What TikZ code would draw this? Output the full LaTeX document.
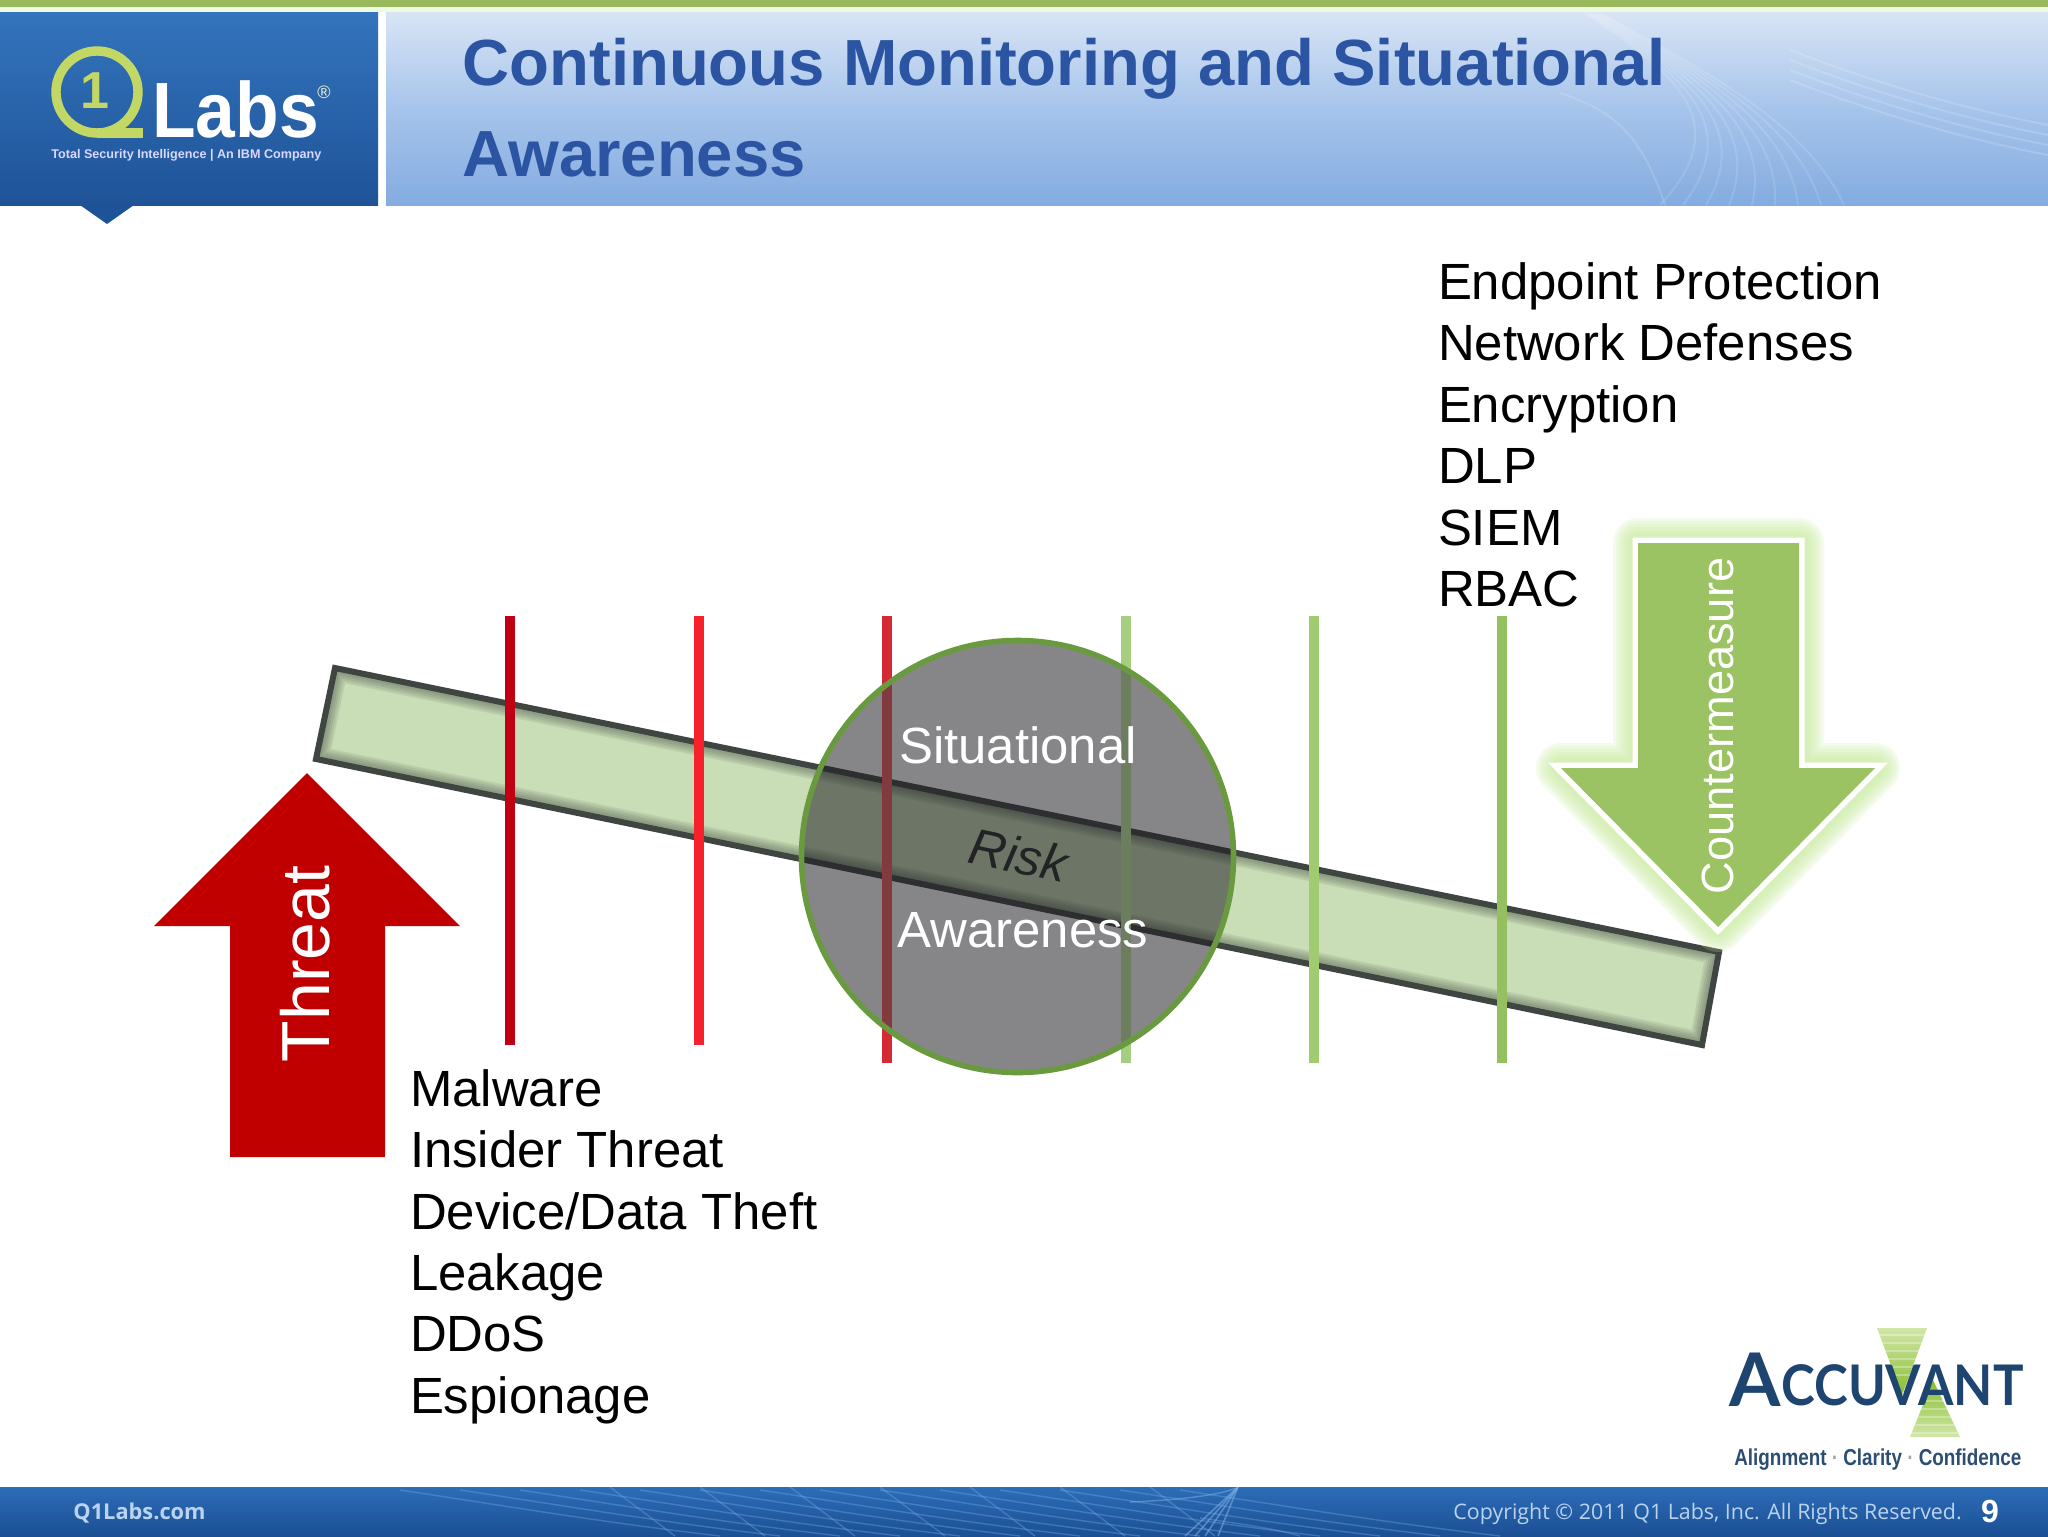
\documentclass[tikz,border=0pt]{standalone}
\usepackage{fontspec}
\setmainfont{Liberation Sans}
\newfontfamily\footfont{Open Sans}
\newfontfamily\brandfont{Lato}
\usetikzlibrary{calc}
\definecolor{titleblue}{HTML}{2B55A3}
\definecolor{topgreen}{HTML}{98BA5C}
\definecolor{threatred}{HTML}{C00000}
\definecolor{cmgreen}{HTML}{9BC263}
\definecolor{glowgreen}{HTML}{CBEDA3}
\definecolor{beamfill}{HTML}{C9DDB6}
\definecolor{beamedge}{HTML}{3F4540}
\definecolor{ringgreen}{HTML}{C3D765}
\definecolor{circleedge}{HTML}{6A9A40}
\definecolor{circlefill}{HTML}{1C1B20}
\definecolor{accblue}{HTML}{1D4570}
\definecolor{foottext}{HTML}{BAD3F0}
\definecolor{footline}{HTML}{7FB0E6}
\definecolor{headtop}{HTML}{D8E4F5}
\definecolor{headmid}{HTML}{A6C4EB}
\definecolor{headbot}{HTML}{84ACE0}
\definecolor{logotop}{HTML}{3374BC}
\definecolor{logobot}{HTML}{1F5398}
\definecolor{foottop}{HTML}{2C6DB8}
\definecolor{footbot}{HTML}{1B4F93}
\definecolor{barA}{HTML}{C00012}
\definecolor{barB}{HTML}{F6212B}
\definecolor{barC}{HTML}{D52A33}
\definecolor{barD}{HTML}{A5CF7E}
\definecolor{barE}{HTML}{A0CB70}
\definecolor{barF}{HTML}{94C060}
\definecolor{accstrong}{HTML}{86BE2E}
\definecolor{acclight}{HTML}{D2E6A8}
\definecolor{risktext}{HTML}{2A2C2A}
\tikzset{
  x=0.5pt,y=-0.5pt,
  listtext/.style={anchor=base west,inner sep=0pt,outer sep=0pt,font=\fontsize{25.45pt}{30.7pt}\selectfont,text=black},
  titletext/.style={anchor=base west,inner sep=0pt,font=\fontsize{32.63pt}{39pt}\selectfont\bfseries,text=titleblue},
  vbar/.style={line width=4.6pt},
  foot/.style={anchor=base west,inner sep=0pt,text=foottext},
  circletext/.style={inner sep=0pt,font=\fontsize{25.45pt}{30pt}\selectfont,text=white,anchor=base},
}
\newcommand{\cmpath}{(1638,543) -- (1799,543) -- (1799,768) -- (1875,768) -- (1718,927) -- (1561,768) -- (1638,768) -- cycle}
\newcommand{\beampath}{(335,668) -- (1719,952) -- (1702,1045) -- (316,759) -- cycle}
\newcommand{\ringpath}{(1017.5,856.5) circle (216)}
\begin{document}
\begin{tikzpicture}
\useasboundingbox (0,0) rectangle (2048,1536);
\fill[white] (0,0) rectangle (2048,1536);
% header
\fill[topgreen] (0,0) rectangle (2048,7);
\fill[glowgreen!30!white] (0,7) rectangle (2048,12);
\shade[top color=headtop,bottom color=headbot,middle color=headmid] (386,13) rectangle (2048,205);
\begin{scope}
  \clip (386,13) rectangle (2048,205);
  \foreach \d in {0,...,8}{
    \draw[white,opacity=.13,line width=1pt] (1585+2*\d,13) .. controls (1670+4*\d,70) and (1740+8*\d,120) .. (1660+23*\d,205);
  }
  \draw[white,opacity=.15,line width=1pt] (1560,93) .. controls (1610,110) and (1640,130) .. (1665,205);
  \foreach \d in {0,10,20,30}{
    \draw[white,opacity=.16,line width=1pt] (1790,50+\d) .. controls (1880,85+\d) and (1970,110+\d) .. (2048,125+\d);
  }
\end{scope}
\shade[top color=logotop,bottom color=logobot] (0,13) rectangle (378,205);
\fill[logobot] (80,205) -- (134,205) -- (107,224) -- cycle;
% Q1 Labs logo
\draw[ringgreen,line width=4.7pt] (97,92) circle (41);
\fill[ringgreen] (97,128) rectangle (143,138);
\node[inner sep=0pt,font=\fontsize{26pt}{26pt}\selectfont\bfseries,text=ringgreen] (logoone) at (95,91) {1};
\node[anchor=base west,inner sep=0pt,font=\fontsize{39.2pt}{40pt}\selectfont\bfseries,text=white,xscale=.91,transform shape] (logolabs) at (152,137) {Labs};
\node[inner sep=0pt,font=\fontsize{9pt}{9pt}\selectfont,text=white!70!ringgreen] (logoreg) at (324,92) {®};
\node[anchor=base west,inner sep=0pt,font=\fontsize{6.3pt}{7pt}\selectfont\bfseries,text=white!85!blue] (logotag) at (51,158) {Total Security Intelligence | An IBM Company};
% title
\node[titletext] (title1) at (462,86) {Continuous Monitoring and Situational};
\node[titletext] (title2) at (462,176) {Awareness};
% footer
\shade[top color=foottop,bottom color=footbot] (0,1487) rectangle (2048,1536);
\begin{scope}
  \clip (0,1487) rectangle (2048,1536);
  \foreach \d in {-500,-440,...,320}{
    \draw[footline,opacity=.35,line width=.7pt] (900+\d,1490) .. controls (1000+\d,1505) and (1100+\d,1522) .. (1220+\d,1536);
  }
  \foreach \d in {-300,-210,...,240}{
    \draw[footline,opacity=.35,line width=.7pt] (910+\d,1487) -- (975+\d,1536);
  }
  \foreach \x in {1185,1195,1205,1218}{
    \draw[footline,opacity=.55,line width=.8pt] (1238,1487) -- (\x,1536);
  }
  \draw[footline,opacity=.5,line width=.7pt] (1130,1502) .. controls (1180,1500) and (1220,1495) .. (1236,1488);
  \draw[footline,opacity=.35,line width=.7pt] (1200,1518) .. controls (1250,1525) and (1280,1530) .. (1300,1536);
\end{scope}
\node[foot,font=\fontsize{10.9pt}{12pt}\selectfont\footfont\bfseries] (footl) at (73,1519) {Q1Labs.com};
\node[foot,font=\fontsize{10.7pt}{12pt}\selectfont\footfont] (footr) at (1453,1519) {Copyright © 2011 Q1 Labs, Inc. All Rights Reserved.};
\node[anchor=base,inner sep=0pt,font=\fontsize{16pt}{16pt}\selectfont\bfseries,text=white] (pagenum) at (1990,1522) {9};
% Accuvant logo
\shade[top color=acclight,bottom color=accstrong] (1877,1328) -- (1927,1328) -- (1902,1395) -- cycle;
\shade[top color=accstrong,bottom color=acclight] (1933,1380) -- (1960,1437) -- (1910,1437) -- cycle;
\foreach \y in {1334,1342,1350,1358,1366,1374,1392,1400,1408,1416,1424,1432}{
  \fill[white,opacity=.3] (1870,\y) rectangle (1965,\y+2);
}
\node[anchor=base west,inner sep=0pt,font=\fontsize{37pt}{37pt}\selectfont\brandfont\bfseries,text=accblue] (accA) at (1729,1406) {A};
\node[anchor=base west,inner sep=0pt,font=\fontsize{28pt}{28pt}\selectfont\brandfont\bfseries,text=accblue,xscale=.91,transform shape] (accrest) at (1781,1405) {CCUVANT};
\node[anchor=base west,inner sep=0pt,font=\fontsize{11.5pt}{12pt}\selectfont\bfseries,text=accblue!85!gray,xscale=.82,transform shape] (acctag) at (1734,1465) {Alignment {\color{gray!70}·} Clarity {\color{gray!70}·} Confidence};
% beam
\fill[beamfill] \beampath;
\begin{scope}
  \clip \beampath;
  \foreach \w in {13,11,9,7,5}{
    \draw[beamedge,opacity=.10,line width=\w pt] \beampath;
  }
\end{scope}
\draw[beamedge,line width=3pt,line join=miter] \beampath;
% threat arrow
\fill[threatred] (307,773) -- (460,926) -- (385,926) -- (385,1157) -- (230,1157) -- (230,926) -- (154,926) -- cycle;
\node[inner sep=0pt,rotate=90,font=\fontsize{34pt}{34pt}\selectfont,text=white,anchor=base] (threat) at (329,964) {Threat};
% countermeasure arrow
\foreach \w in {25,22,19,16,13,10}{
  \draw[glowgreen,opacity=.2,line width=\w pt,line join=round] \cmpath;
}
\draw[white,line width=5.5pt,line join=miter,miter limit=10] \cmpath;
\fill[cmgreen] \cmpath;
\node[inner sep=0pt,rotate=90,font=\fontsize{22.6pt}{23pt}\selectfont,text=white,anchor=base] (cm) at (1733,726) {Countermeasure};
% bars
\draw[vbar,draw=barA] (510,616) -- (510,1045);
\draw[vbar,draw=barB] (699,616) -- (699,1045);
\draw[vbar,draw=barC] (887,616) -- (887,1063);
\draw[vbar,draw=barD] (1126,616) -- (1126,1063);
\draw[vbar,draw=barE] (1314,616) -- (1314,1063);
\draw[vbar,draw=barF] (1502,616) -- (1502,1063);
% risk on beam
\node[inner sep=0pt,rotate=-12,font=\fontsize{25.45pt}{30pt}\selectfont\itshape,text=risktext,anchor=center] (risk) at (1019,855) {Risk};
% circle
\fill[circlefill,opacity=.53] \ringpath;
\begin{scope}
  \clip \ringpath;
  \draw[vbar,draw=white,opacity=.11] (887,616) -- (887,1063);
  \draw[vbar,draw=white,opacity=.11] (1126,616) -- (1126,1063);
\end{scope}
\draw[draw=circleedge,line width=2.8pt] \ringpath;
\node[circletext] (sit) at (1018,763) {Situational};
\node[circletext] (aw) at (1023,947) {Awareness};
% lists
\node[listtext] (cmlist) at (1438,299) {Endpoint Protection};
\node[listtext] (cm2) at (1438,360) {Network Defenses};
\node[listtext] (cm3) at (1438,422) {Encryption};
\node[listtext] (cm4) at (1438,483) {DLP};
\node[listtext] (cm5) at (1438,545) {SIEM};
\node[listtext] (cm6) at (1438,606) {RBAC};
\node[listtext] (t1) at (410,1106) {Malware};
\node[listtext] (t2) at (410,1167) {Insider Threat};
\node[listtext] (t3) at (410,1229) {Device/Data Theft};
\node[listtext] (t4) at (410,1290) {Leakage};
\node[listtext] (t5) at (410,1351) {DDoS};
\node[listtext] (t6) at (410,1413) {Espionage};
\end{tikzpicture}
\end{document}
